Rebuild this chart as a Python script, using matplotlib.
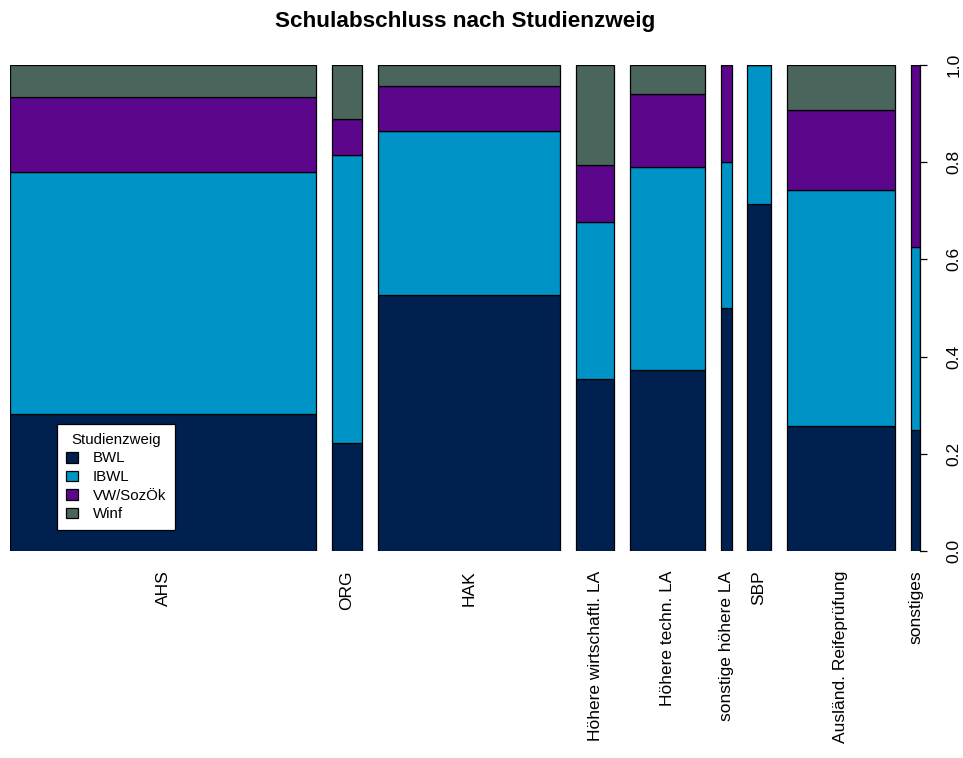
import numpy as np
import matplotlib
matplotlib.use("Agg")
import matplotlib.pyplot as plt
from matplotlib.patches import Patch

plt.rcParams['font.family'] = ['Liberation Sans', 'DejaVu Sans']

# school types (x) and study programme counts (estimated from the spine widths/heights)
schools = ['AHS', 'ORG', 'HAK', 'Höhere wirtschaftl. LA', 'Höhere techn. LA',
           'sonstige höhere LA', 'SBP', 'Ausländ. Reifeprüfung', 'sonstiges']
majors = ['BWL', 'IBWL', 'VW/SozÖk', 'Winf']
bwl = [77, 6, 86, 12, 25, 5, 15, 25, 2]
ibwl = [136, 16, 55, 11, 28, 3, 6, 47, 3]
vw = [42, 2, 15, 4, 10, 2, 0, 16, 3]
winf = [18, 3, 7, 7, 4, 0, 0, 9, 0]
colors = ['#00214F', '#0093C6', '#5C068C', '#4A665C']

tab = np.array([bwl, ibwl, vw, winf], dtype=float)  # majors x schools
n_per_school = tab.sum(axis=0)
widths = n_per_school / n_per_school.sum()
props = tab / n_per_school

off = 0.02
xleft = np.concatenate([[0], np.cumsum(widths + off)[:-1]])
centers = xleft + widths / 2

fig = plt.figure(figsize=(9.63, 7.58), dpi=100)
W, H = 963, 758
ax = fig.add_axes([10 / W, (H - 551) / H, 910 / W, 486 / H])

bottom = np.zeros(len(schools))
for i, m in enumerate(majors):
    ax.bar(xleft, props[i], width=widths, bottom=bottom, align='edge',
           color=colors[i], edgecolor='black', linewidth=0.9)
    bottom += props[i]

ax.set_xlim(0, 1 + off * (len(schools) - 1))
ax.set_ylim(0, 1)

# x labels (no ticks)
ax.set_xticks(centers)
ax.set_xticklabels(schools, rotation=90, va='top', ha='center', fontsize=12.5)
ax.tick_params(axis='x', length=0, pad=14)

# right axis
ax.yaxis.tick_right()
ax.set_yticks([0, 0.2, 0.4, 0.6, 0.8, 1.0])
ax.set_yticklabels(['0.0', '0.2', '0.4', '0.6', '0.8', '1.0'], rotation=90,
                   va='center', fontsize=12.5)
ax.tick_params(axis='y', length=5, width=0.9, pad=14)

for s in ['top', 'bottom', 'left']:
    ax.spines[s].set_visible(False)
ax.spines['right'].set_linewidth(0.9)

fig.suptitle('Schulabschluss nach Studienzweig', x=465 / W, y=1 - 22 / H,
             va='center', fontsize=16.2, fontweight='bold')

handles = [Patch(facecolor=c, edgecolor='black', linewidth=0.9) for c in colors]
leg = ax.legend(handles, majors, title='Studienzweig', loc='upper left',
                bbox_to_anchor=(57 / W, (H - 424) / H), bbox_transform=fig.transFigure,
                fancybox=False, framealpha=1, edgecolor='black', fontsize=10.8,
                title_fontsize=10.8, handlelength=0.8, handleheight=0.7,
                labelspacing=0.3, borderpad=0.6, handletextpad=1.0,
                borderaxespad=0)
leg.get_frame().set_linewidth(0.9)

plt.savefig('out.png', dpi=100)
